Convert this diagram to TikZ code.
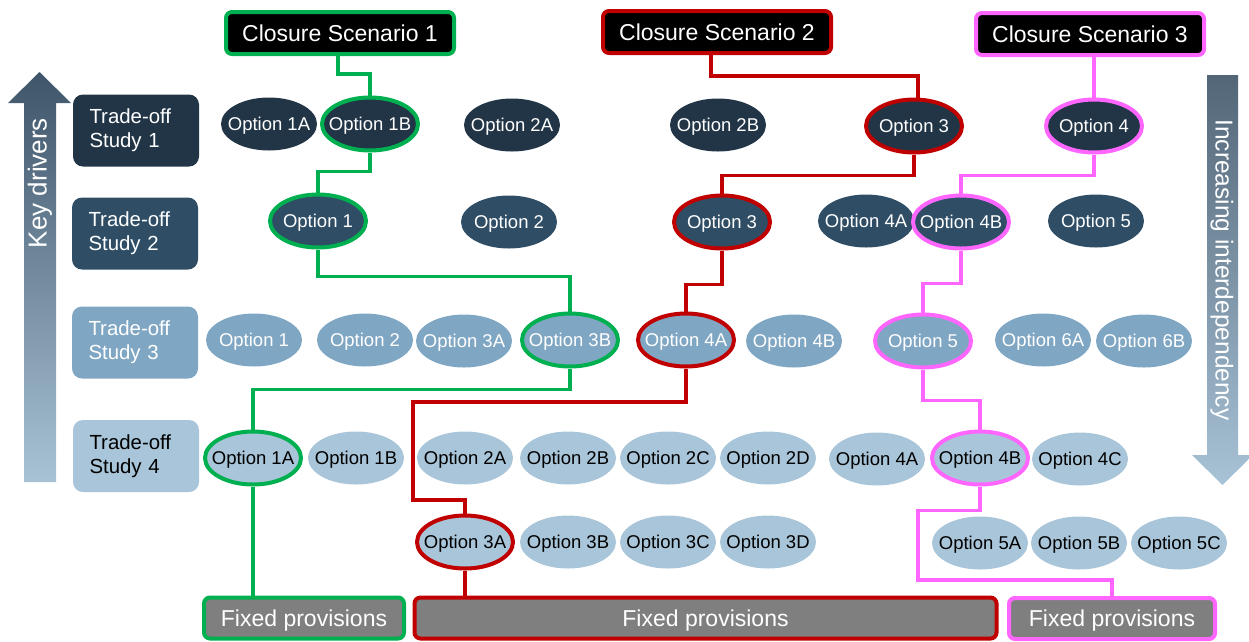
\documentclass[tikz,border=0pt]{standalone}
\usepackage{fontspec}
\setmainfont{Liberation Sans}
\usetikzlibrary{shapes.geometric}

\definecolor{navyA}{HTML}{213547}
\definecolor{navyB}{HTML}{2F4E66}
\definecolor{steelC}{HTML}{7FA6C3}
\definecolor{paleD}{HTML}{A9C5D9}
\definecolor{scGreen}{HTML}{00B050}
\definecolor{scRed}{HTML}{C00000}
\definecolor{scPink}{HTML}{FF66FF}
\definecolor{provGray}{HTML}{7F7F7F}
\definecolor{arrTop}{HTML}{3F5569}
\definecolor{arrBot}{HTML}{A8C2D6}

\begin{document}
\begin{tikzpicture}[x=1pt,y=-1pt,
  opt/.style={ellipse, minimum width=96pt, minimum height=53pt,
    inner xsep=-32pt, inner ysep=0pt, text depth=0pt,
    font=\fontsize{18.5}{20}\selectfont},
  lvA/.style={opt, fill=navyA, text=white},
  lvB/.style={opt, fill=navyB, text=white},
  lvC/.style={opt, fill=steelC, text=white},
  lvD/.style={opt, fill=paleD, text=black},
  hl/.style={draw=#1, line width=4pt},
  study/.style={rounded corners=10pt, minimum width=126pt, minimum height=72pt,
    inner sep=0pt, text width=93pt, align=left,
    font=\fontsize{20.4}{24}\selectfont},
  scen/.style={draw=#1, fill=black, text=white, rounded corners=6pt,
    line width=4pt, minimum width=228pt, minimum height=42pt,
    font=\fontsize{23}{26}\selectfont},
  prov/.style={draw=#1, fill=provGray, text=white, rounded corners=6pt,
    line width=4pt, minimum height=41pt, text depth=0pt,
    font=\fontsize{23}{26}\selectfont},
  link/.style={draw=#1, line width=3.5pt}
]
\useasboundingbox (0,0) rectangle (1249,641);

% side arrows
\shade[top color=arrTop, bottom color=arrBot]
  (24,482) -- (24,103) -- (8,103) -- (39.5,72) -- (71,103) -- (56,103) -- (56,482) -- cycle;
\shade[top color=arrTop!90!white, bottom color=arrBot]
  (1207,75) -- (1238,75) -- (1238,455) -- (1253,455) -- (1222.5,485) -- (1192,455) -- (1207,455) -- cycle;
\node[rotate=90, text=white, font=\fontsize{26}{28}\selectfont] (kd) at (40,183) {Key drivers};
\node[rotate=-90, text=white, font=\fontsize{24.5}{26}\selectfont] (inc) at (1222,270) {Increasing interdependency};

% closure scenarios
\node[scen=scGreen] (cs1) at (340,33) {Closure Scenario 1};
\node[scen=scRed]   (cs2) at (717,32) {Closure Scenario 2};
\node[scen=scPink]  (cs3) at (1090,34) {Closure Scenario 3};

% trade-off studies
\node[study, fill=navyA, text=white] (ts1) at (136,130.5) {Trade-off\\Study 1};
\node[study, fill=navyB, text=white] (ts2) at (135,233.5) {Trade-off\\Study 2};
\node[study, fill=steelC, text=white] (ts3) at (135,342.5) {Trade-off\\Study 3};
\node[study, fill=paleD, text=black] (ts4) at (136,456) {Trade-off\\Study 4};

% study 1 options
\node[lvA] (a1A) at (269,124) {Option 1A};
\node[lvA, hl=scGreen] (a1B) at (370,124) {Option 1B};
\node[lvA] (a2A) at (512,125) {Option 2A};
\node[lvA] (a2B) at (718,125) {Option 2B};
\node[lvA, hl=scRed] (a3) at (914,126) {Option 3};
\node[lvA, hl=scPink] (a4) at (1094,126) {Option 4};

% study 2 options
\node[lvB, hl=scGreen] (b1) at (318,221) {Option 1};
\node[lvB] (b2) at (509,222) {Option 2};
\node[lvB, hl=scRed] (b3) at (722,222) {Option 3};
\node[lvB] (b4A) at (866,221) {Option 4A};
\node[lvB, hl=scPink] (b4B) at (961,222) {Option 4B};
\node[lvB] (b5) at (1096,221) {Option 5};

% study 3 options
\node[lvC] (c1) at (254,340) {Option 1};
\node[lvC] (c2) at (365,340) {Option 2};
\node[lvC] (c3A) at (464,341) {Option 3A};
\node[lvC, hl=scGreen] (c3B) at (570,340) {Option 3B};
\node[lvC, hl=scRed] (c4A) at (686,340) {Option 4A};
\node[lvC] (c4B) at (794,341) {Option 4B};
\node[lvC, hl=scPink] (c5) at (923,341) {Option 5};
\node[lvC] (c6A) at (1043,340) {Option 6A};
\node[lvC] (c6B) at (1144,341) {Option 6B};

% study 4 options
\node[lvD, hl=scGreen] (d1A) at (253,458) {Option 1A};
\node[lvD] (d1B) at (356,458) {Option 1B};
\node[lvD] (d2A) at (465,458) {Option 2A};
\node[lvD] (d2B) at (568,458) {Option 2B};
\node[lvD] (d2C) at (668,458) {Option 2C};
\node[lvD] (d2D) at (768,458) {Option 2D};
\node[lvD] (d4A) at (877,459) {Option 4A};
\node[lvD, hl=scPink] (d4B) at (980,458) {Option 4B};
\node[lvD] (d4C) at (1080,459) {Option 4C};
\node[lvD, hl=scRed] (d3A) at (465,542) {Option 3A};
\node[lvD] (d3B) at (568,542) {Option 3B};
\node[lvD] (d3C) at (668,542) {Option 3C};
\node[lvD] (d3D) at (768,542) {Option 3D};
\node[lvD] (d5A) at (980,543) {Option 5A};
\node[lvD] (d5B) at (1079,543) {Option 5B};
\node[lvD] (d5C) at (1179,543) {Option 5C};

% fixed provisions
\node[prov=scGreen, minimum width=200pt] (fp1) at (304,618) {Fixed provisions};
\node[prov=scRed, minimum width=582pt] (fp2) at (705.5,618) {Fixed provisions};
\node[prov=scPink, minimum width=206pt] (fp3) at (1112,618.5) {Fixed provisions};

% bend points
\coordinate (rc) at (413,402);
\coordinate (mc) at (918,580);

% scenario 1 path
\draw[link=scGreen] ([xshift=-2pt]cs1.south) -- ++(0,18) -| (a1B.north);
\draw[link=scGreen] (a1B.south) -- ++(0,19) -| (b1.north);
\draw[link=scGreen] (b1.south) -- ++(0,27) -| (c3B.north);
\draw[link=scGreen] (c3B.south) -- ++(0,21) -| (d1A.north);
\draw[link=scGreen] (d1A.south) -- (d1A.south |- fp1.north);

% scenario 2 path
\draw[link=scRed] ([xshift=-6pt]cs2.south) -- ++(0,21) -| ([xshift=4pt]a3.north);
\draw[link=scRed] (a3.south) -- ++(0,21) -| (b3.north);
\draw[link=scRed] (b3.south) -- ++(0,34) -| (c4A.north);
\draw[link=scRed] (c4A.south) |- (rc) -- ++(0,98) -| (d3A.north);
\draw[link=scRed] (d3A.south) -- (d3A.south |- fp2.north);

% scenario 3 path
\draw[link=scPink] (a4.north |- cs3.south) -- (a4.north);
\draw[link=scPink] (a4.south) -- ++(0,21) -| (b4B.north);
\draw[link=scPink] (b4B.south) -- ++(0,33) -| (c5.north);
\draw[link=scPink] (c5.south) -- ++(0,31) -| (d4B.north);
\draw[link=scPink] (d4B.south) -- ++(0,24) -| (mc) -| (fp3.north);
\end{tikzpicture}
\end{document}
